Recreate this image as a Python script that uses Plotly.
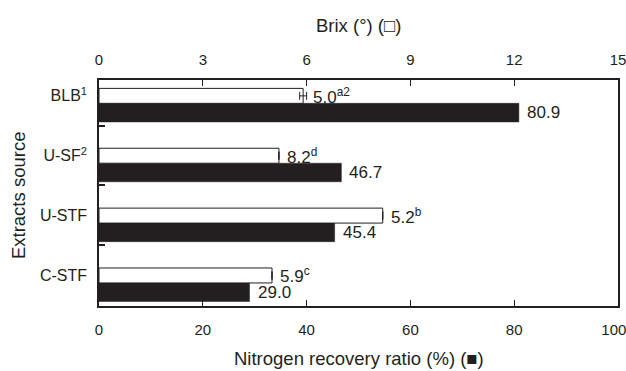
import plotly.graph_objects as go

categories = ["BLB<sup>1</sup>", "U-SF<sup>2</sup>", "U-STF", "C-STF"]
brix = [5.9, 5.2, 8.2, 5.0]
brix_err = [0.1, 0, 0, 0]
brix_labels = ["5.0<sup>a2</sup>", "8.2<sup>d</sup>", "5.2<sup>b</sup>", "5.9<sup>c</sup>"]
nitrogen = [80.9, 46.7, 45.4, 29.0]
nitrogen_labels = ["80.9", "46.7", "45.4", "29.0"]
brix_ticks = [0, 3, 6, 9, 12, 15]
nitrogen_ticks = [0, 20, 40, 60, 80, 100]

FONT = "Liberation Sans, Arial, sans-serif"
INK = "#231f20"
pos = list(range(len(categories)))

# last bottom label nudged left so it stays inside the picture, like the reference
nitrogen_ticktext = [str(t) for t in nitrogen_ticks]
nitrogen_ticktext[-1] = nitrogen_ticktext[-1] + "&nbsp;&nbsp;"

fig = go.Figure()
fig.add_trace(go.Bar(
    y=pos, x=nitrogen, orientation="h", xaxis="x", yaxis="y",
    width=0.31, offset=0,
    marker=dict(color=INK, line=dict(color=INK, width=0.5)),
    showlegend=False, hoverinfo="x",
))
fig.add_trace(go.Bar(
    y=pos, x=brix, orientation="h", xaxis="x2", yaxis="y",
    width=0.25, offset=-0.25,
    marker=dict(color="white", line=dict(color=INK, width=1)),
    error_x=dict(type="data", array=brix_err, visible=True, color=INK, thickness=1, width=4),
    showlegend=False, hoverinfo="x",
))

annotations = []
for i in pos:
    annotations.append(dict(x=nitrogen[i], y=i + 0.155, xref="x", yref="y", text=nitrogen_labels[i],
                            showarrow=False, xanchor="left", yanchor="middle", xshift=6,
                            font=dict(family=FONT, size=17, color=INK)))
    annotations.append(dict(x=brix[i] + brix_err[i], y=i - 0.125, xref="x2", yref="y", text=brix_labels[i],
                            showarrow=False, xanchor="left", yanchor="middle", xshift=4 if brix_err[i] else 6,
                            font=dict(family=FONT, size=17, color=INK)))

# axis titles
annotations.append(dict(x=0.5, y=-0.2345, xref="paper", yref="paper", text="Nitrogen recovery ratio (%) (■)",
                        showarrow=False, xanchor="center", yanchor="middle",
                        font=dict(family=FONT, size=18.5, color=INK)))
annotations.append(dict(x=0.5, y=1.239, xref="paper", yref="paper", text="Brix (°) (□)",
                        showarrow=False, xanchor="center", yanchor="middle",
                        font=dict(family=FONT, size=18.5, color=INK)))
annotations.append(dict(x=-0.156, y=0.491, xref="paper", yref="paper", text="Extracts source",
                        showarrow=False, xanchor="center", yanchor="middle", textangle=-90,
                        font=dict(family=FONT, size=18.5, color=INK)))

fig.update_layout(
    width=626, height=371,
    margin=dict(l=99, r=8, t=80, b=65, autoexpand=False),
    paper_bgcolor="white", plot_bgcolor="white",
    font=dict(family=FONT, size=15, color=INK),
    barmode="overlay",
    annotations=annotations,
    xaxis=dict(
        range=[0, 100], tickvals=nitrogen_ticks, ticktext=nitrogen_ticktext,
        ticks="inside", ticklen=6, tickwidth=1,
        tickcolor=INK, showline=True, linecolor=INK, linewidth=1.5,
        showgrid=False, zeroline=False, ticklabelstandoff=9, automargin=False,
        tickfont=dict(size=15), ticklabeloverflow="allow",
    ),
    xaxis2=dict(
        range=[0, 15], tickvals=brix_ticks, ticks="inside", ticklen=6, tickwidth=1,
        tickcolor=INK, showline=True, linecolor=INK, linewidth=1.5,
        showgrid=False, zeroline=False, overlaying="x", side="top", anchor="y",
        ticklabelstandoff=7, automargin=False, tickfont=dict(size=15),
        ticklabeloverflow="allow",
    ),
    yaxis=dict(
        range=[3.385, -0.39], tickvals=[p - 0.125 for p in pos], ticktext=categories,
        ticks="", showline=True, linecolor=INK, linewidth=1.5, mirror=True,
        showgrid=False, zeroline=False, ticklabelstandoff=7, automargin=False,
        tickfont=dict(size=16),
        minor=dict(tickvals=[p + 0.37 for p in pos[:-1]], ticks="inside", ticklen=6,
                   tickcolor=INK, tickwidth=1.5, showgrid=False),
    ),
)

fig.write_html(
    "out.html",
    config={"displayModeBar": False},
    post_script="document.body.style.margin='0';document.body.style.overflow='hidden';",
)
